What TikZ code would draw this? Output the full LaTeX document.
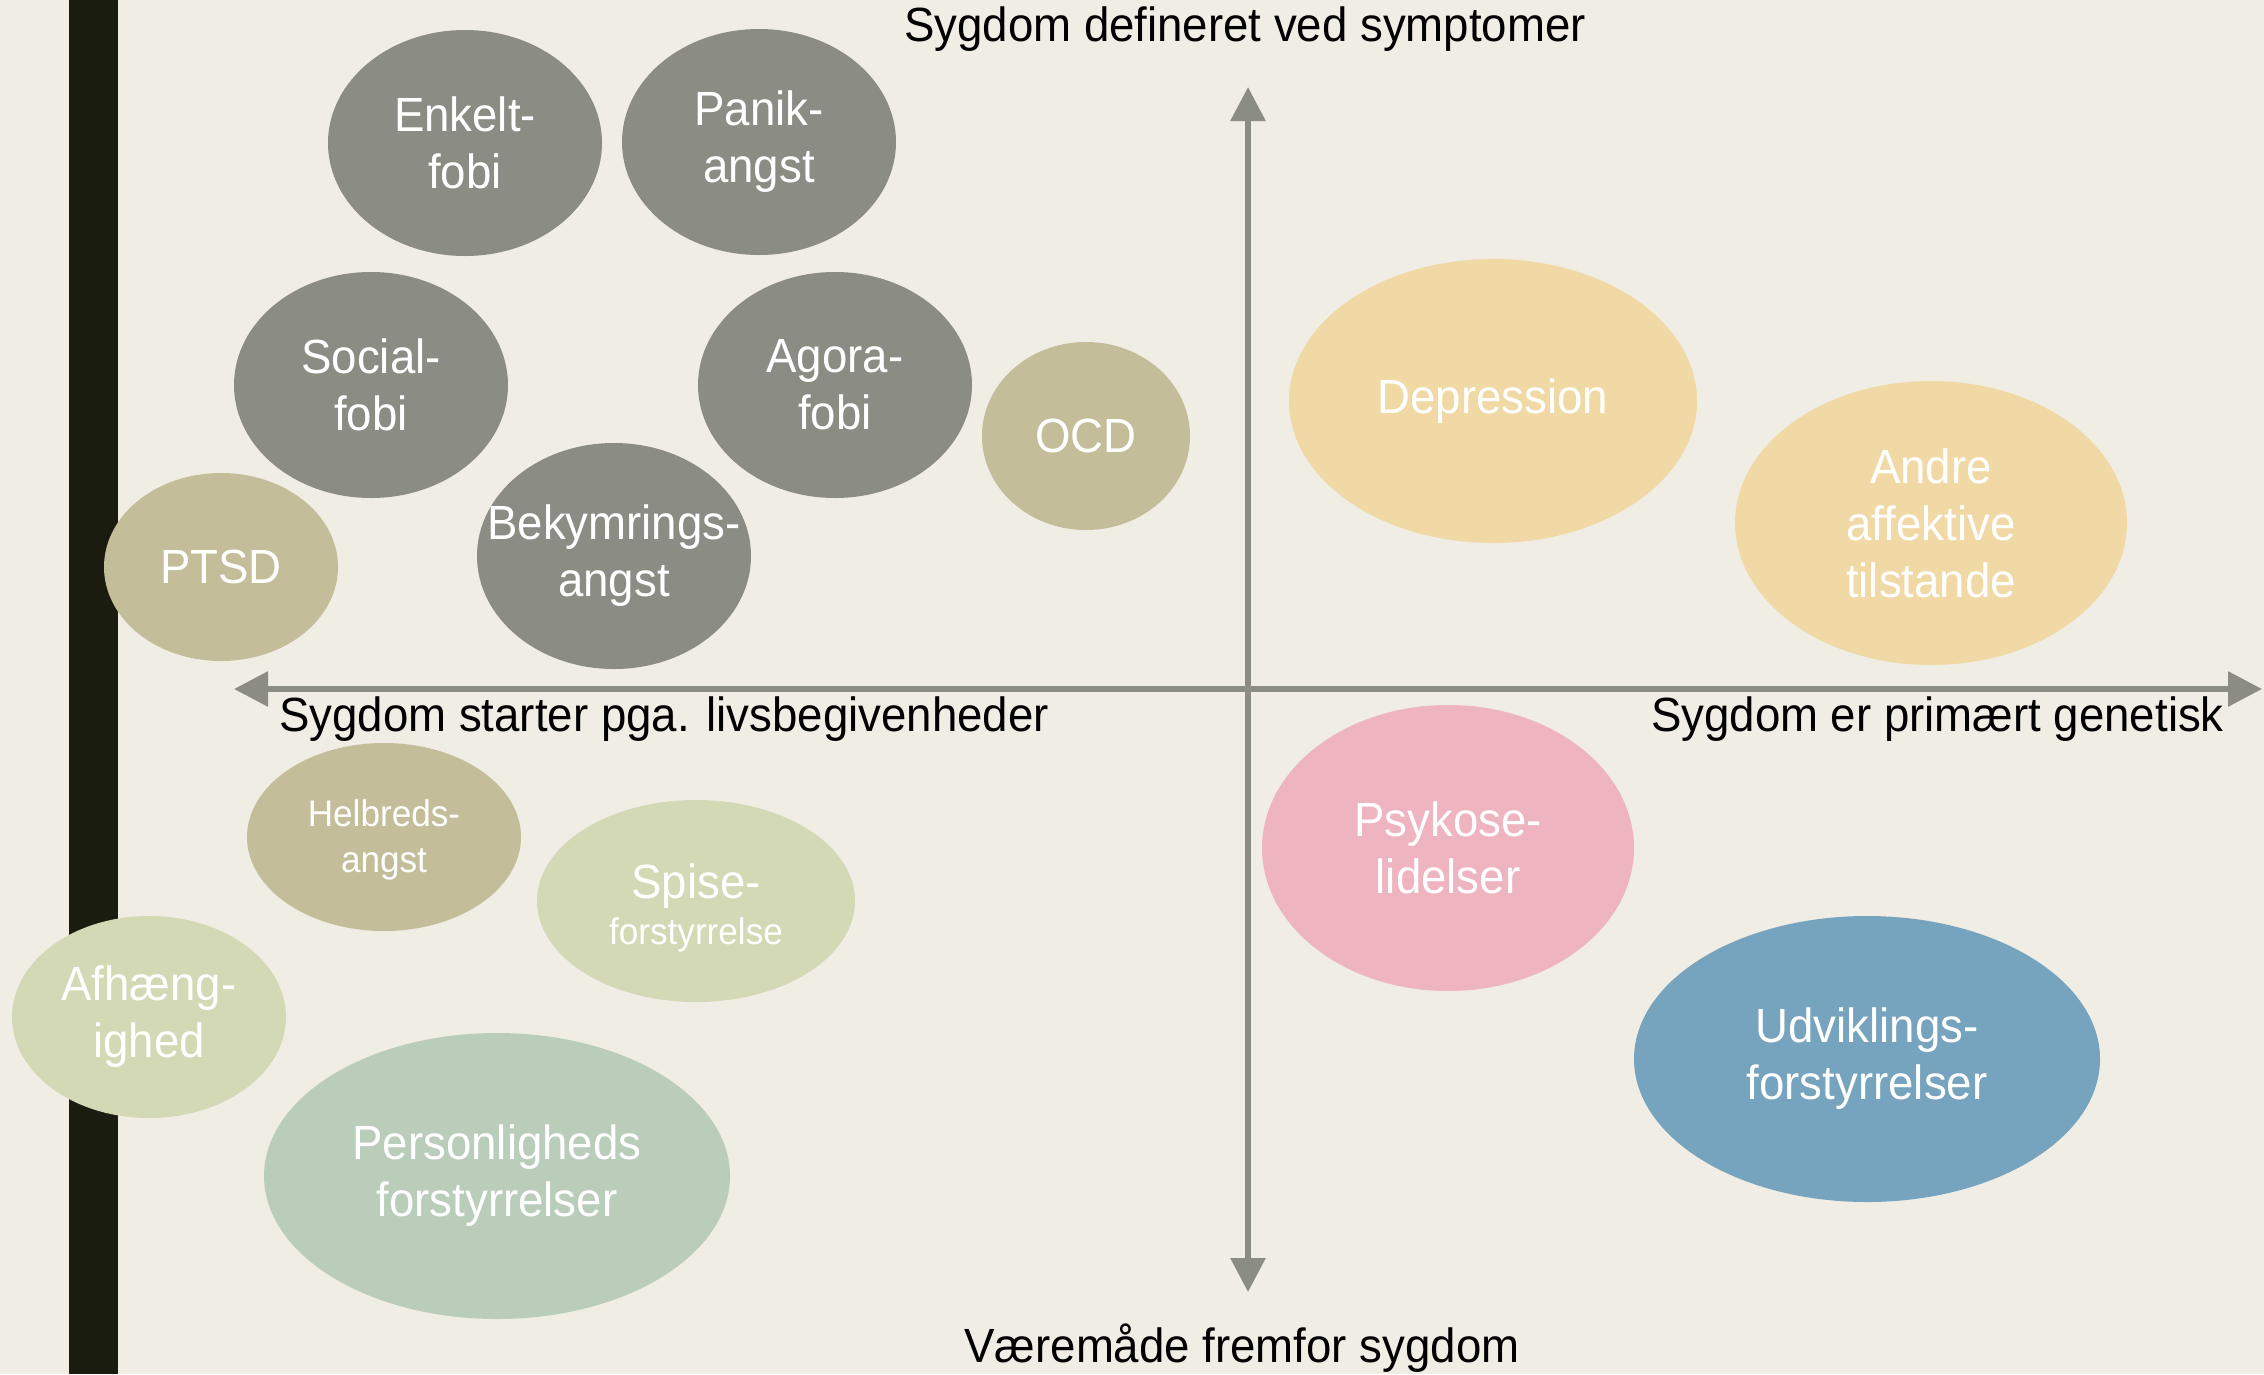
\documentclass[tikz,border=0pt]{standalone}
\usepackage{fontspec}
\setmainfont[FakeStretch=0.95]{Liberation Sans}
\usetikzlibrary{shapes.geometric,arrows.meta}
\definecolor{paper}{HTML}{EFEDE4}
\definecolor{barblack}{HTML}{1B1C10}
\definecolor{axisgray}{HTML}{8B8C84}
\definecolor{stone}{HTML}{8B8C84}
\definecolor{sand}{HTML}{C4BD99}
\definecolor{butter}{HTML}{F0D9A5}
\definecolor{rose}{HTML}{EEB4BF}
\definecolor{steel}{HTML}{76A3BD}
\definecolor{sage}{HTML}{D3D9B5}
\definecolor{mint}{HTML}{BACDBA}
\tikzset{
  bubble/.style={ellipse, fill=#1, draw=none, inner sep=0pt},
  bubbletext/.style={text=white, align=center, inner sep=0pt,
    font=\fontsize{48}{57}\selectfont},
  smalltxt/.style={font=\fontsize{37}{46}\selectfont},
  axislabel/.style={text=black, inner sep=0pt, font=\fontsize{48}{57}\selectfont},
  axis/.style={draw=axisgray, line width=6pt,
    {Triangle[length=34pt,width=34pt]}-{Triangle[length=34pt,width=34pt]}},
}
% #1 name, #2 centre, #3 text, #4 colour, #5 width, #6 height
\newcommand{\bub}[6]{%
  \node[bubble=#4, minimum width=#5pt, minimum height=#6pt] (#1) at #2 {};
  \node[bubbletext] (#1-txt) at (#1.center) {#3};}
\begin{document}
\begin{tikzpicture}[x=1pt,y=-1pt]
  % page and left bar
  \fill[paper] (0,0) rectangle (2264,1374);
  \useasboundingbox (0,0) rectangle (2264,1374);
  \fill[barblack] (69,0) rectangle (118,1374);

  % axes
  \coordinate (left) at (234,689);
  \coordinate (right) at (2262,689);
  \coordinate (top) at (1248,87);
  \coordinate (bottom) at (1248,1292);
  \draw[axis] (left) -- (right);
  \draw[axis] (top) -- (bottom);

  % axis captions
  \node[axislabel] (ltop) at (1245,29) {Sygdom defineret ved symptomer};
  \node[axislabel] (lbottom) at (1242,1348) {Væremåde fremfor sygdom};
  \node[axislabel, anchor=west] (lleft) at (279,719) {Sygdom starter pga. livsbegivenheder};
  \node[axislabel, anchor=east] (lright) at (2224,719) {Sygdom er primært genetisk};

  % upper left: anxiety disorders
  \bub{enkelt}{(465,143)}{Enkelt-\\fobi}{stone}{274}{226}
  \bub{panik}{(759,142)}{Panik-\\angst}{stone}{274}{226}
  \bub{social}{(371,385)}{Social-\\fobi}{stone}{274}{226}
  \bub{agora}{(835,385)}{Agora-\\fobi}{stone}{274}{226}
  \bub{ocd}{(1086,436)}{OCD}{sand}{208}{188}
  \bub{ptsd}{(221,567)}{PTSD}{sand}{234}{188}
  \bub{bekym}{(614,556)}{Bekymrings-\\angst}{stone}{274}{226}

  % upper right: affective disorders
  \bub{depr}{(1493,401)}{Depression}{butter}{408}{284}
  \bub{andre}{(1931,523)}{Andre\\affektive\\tilstande}{butter}{392}{284}

  % lower right
  \bub{psyk}{(1448,848)}{Psykose-\\lidelser}{rose}{372}{286}
  \bub{udv}{(1867,1059)}{Udviklings-\\forstyrrelser}{steel}{466}{286}

  % lower left
  \node[bubble=sand, minimum width=274pt, minimum height=188pt] (helb) at (384,837) {};
  \node[bubbletext, smalltxt] (helb-txt) at ([yshift=-3pt]helb.center) {Helbreds-\\angst};
  \node[bubble=sage, minimum width=318pt, minimum height=202pt] (spise) at (696,901) {};
  \node[bubbletext] (spise-txt) at ([yshift=-7pt]spise.center) {Spise-\\[-11pt]{\fontsize{37}{46}\selectfont forstyrrelse}};
  \bub{afh}{(149,1017)}{Afhæng-\\ighed}{sage}{274}{202}
  \bub{pers}{(497,1176)}{Personligheds\\forstyrrelser}{mint}{466}{286}
\end{tikzpicture}
\end{document}
